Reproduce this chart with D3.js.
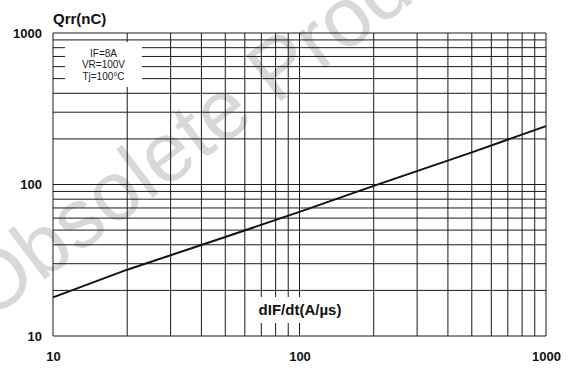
<!DOCTYPE html>
<meta charset="utf-8">
<script src="https://d3js.org/d3.v7.min.js"></script>
<style>
body { margin: 0; background: #fff; }
svg text { font-family: "Liberation Sans", Arial, sans-serif; }
.grid line { stroke: #1a1a1a; stroke-width: 1px; }
.tick-lbl text { font-size: 13px; font-weight: bold; fill: #111; }
.legend text { font-size: 10px; fill: #222; }
</style>
<body>
<script>

// dIF/dt (A/us) and Qrr (nC)
var didt = [10, 20, 50, 100, 200, 500, 1000];
var qrr  = [18, 27.4, 45, 66, 98, 163, 243];

var xTicks = [10, 100, 1000];
var yTicks = [10, 100, 1000];
var conditions = ["IF=8A", "VR=100V", "Tj=100°C"];

var W = 568, H = 369;
var margin = {top: 33, right: 22, bottom: 33, left: 53};

var svg = d3.select("body").append("svg")
    .attr("width", W)
    .attr("height", H);

var x = d3.scaleLog().domain([10, 1000]).range([margin.left, W - margin.right]);
var y = d3.scaleLog().domain([10, 1000]).range([H - margin.bottom, margin.top]);

// watermark, sits behind the grid
svg.append("text")
    .attr("transform", "translate(-12,322) rotate(-37)")
    .style("font-size", "84px")
    .style("fill", "#d8d8d8")
    .text("Obsolete Product");

// log grid: 1..9 in each decade
var gridVals = [];
[10, 100].forEach(function(d) {
  for (var i = 1; i < 10; i++) gridVals.push(d * i);
});
gridVals.push(1000);

var grid = svg.append("g").attr("class", "grid");

grid.selectAll(".vx").data(gridVals).enter().append("line")
    .attr("class", "vx")
    .attr("x1", function(d) { return x(d); })
    .attr("x2", function(d) { return x(d); })
    .attr("y1", y(1000))
    .attr("y2", y(10));

grid.selectAll(".hy").data(gridVals).enter().append("line")
    .attr("class", "hy")
    .attr("x1", x(10))
    .attr("x2", x(1000))
    .attr("y1", function(d) { return y(d); })
    .attr("y2", function(d) { return y(d); });

// condition box
var legend = svg.append("g").attr("class", "legend");
legend.append("rect")
    .attr("x", 65).attr("y", 42)
    .attr("width", 77).attr("height", 45)
    .attr("fill", "#fff");
legend.selectAll("text").data(conditions).enter().append("text")
    .attr("x", 103.5)
    .attr("y", function(d, i) { return 56.5 + i * 11.8; })
    .attr("text-anchor", "middle")
    .text(function(d) { return d; });

// x axis title with white backing
svg.append("rect")
    .attr("x", 250).attr("y", 297)
    .attr("width", 100).attr("height", 26)
    .attr("fill", "#fff");
svg.append("text")
    .attr("x", 300).attr("y", 315)
    .attr("text-anchor", "middle")
    .style("font-size", "15px")
    .style("font-weight", "bold")
    .style("fill", "#111")
    .text("dIF/dt(A/µs)");

// the curve
var pts = didt.map(function(d, i) { return [d, qrr[i]]; });
var line = d3.line()
    .x(function(d) { return x(d[0]); })
    .y(function(d) { return y(d[1]); });

svg.append("path")
    .datum(pts)
    .attr("d", line)
    .attr("fill", "none")
    .attr("stroke", "#111")
    .attr("stroke-width", 2);

// tick labels
var yAxis = d3.axisLeft(y).tickValues(yTicks).tickSize(0).tickPadding(11)
    .tickFormat(d3.format("d"));
svg.append("g")
    .attr("class", "tick-lbl")
    .attr("transform", "translate(" + margin.left + ",0)")
    .call(yAxis)
    .call(function(g) { g.select(".domain").remove(); });

var xAxis = d3.axisBottom(x).tickValues(xTicks).tickSize(0).tickPadding(16)
    .tickFormat(d3.format("d"));
svg.append("g")
    .attr("class", "tick-lbl")
    .attr("transform", "translate(0," + y(10) + ")")
    .call(xAxis)
    .call(function(g) { g.select(".domain").remove(); });

svg.selectAll(".tick-lbl text").attr("fill", "#111").style("font-family", "'Liberation Sans', Arial, sans-serif");

// y axis title
svg.append("text")
    .attr("x", 53).attr("y", 24)
    .style("font-size", "15px")
    .style("font-weight", "bold")
    .style("fill", "#111")
    .text("Qrr(nC)");

</script>
</body>
